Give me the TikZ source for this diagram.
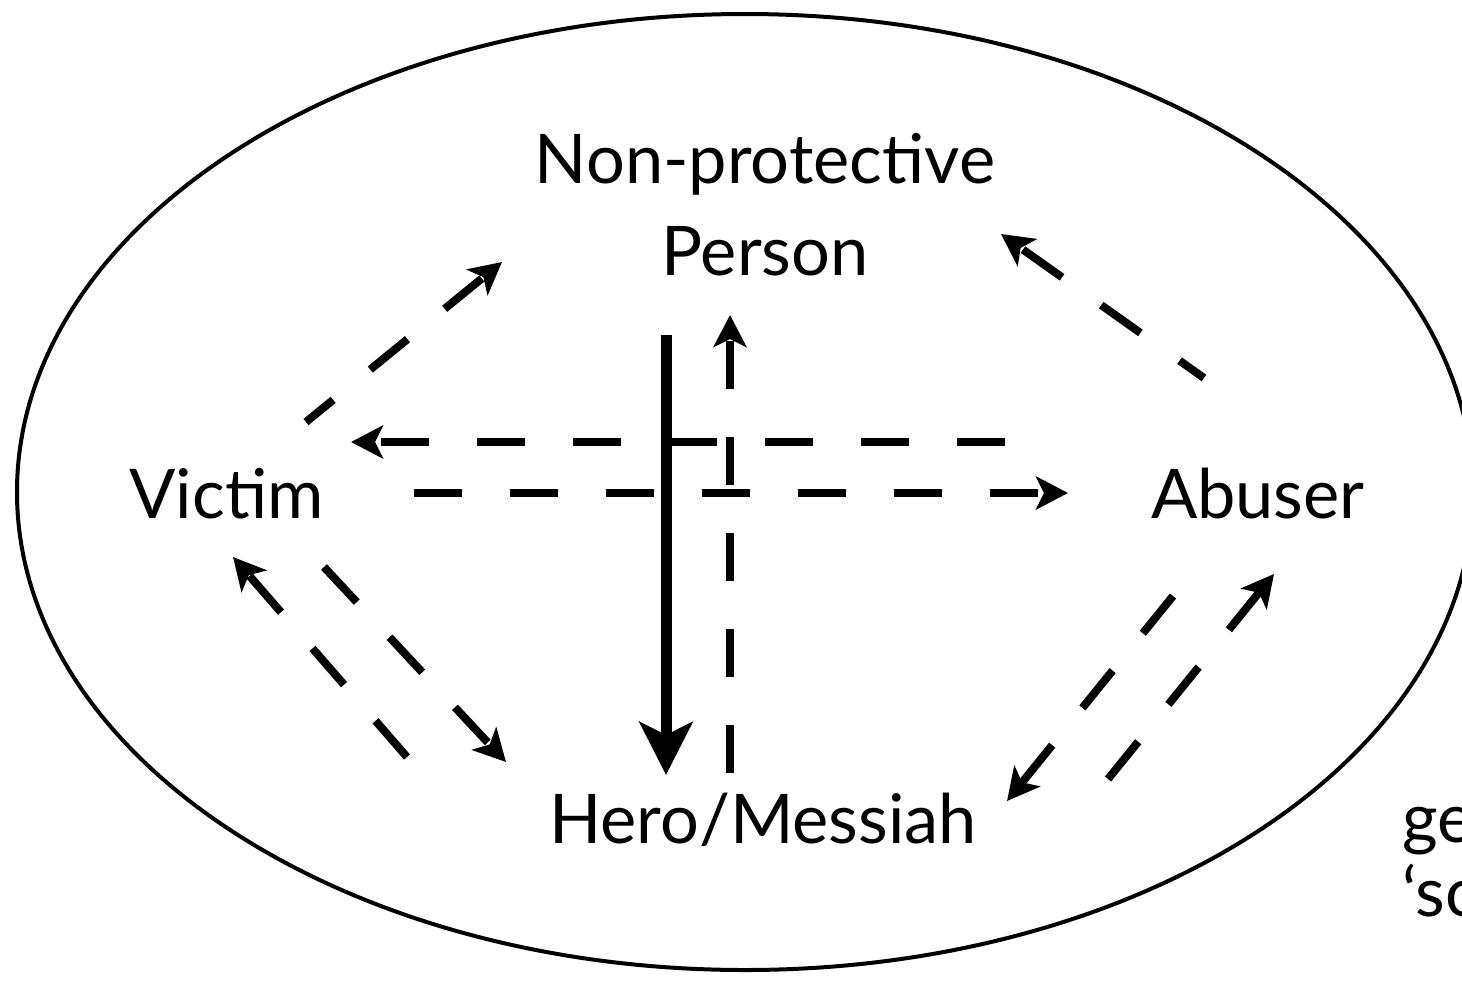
\documentclass[tikz,border=0pt]{standalone}
\usepackage{fontspec}
\setmainfont{Lato}
\usepackage{tikz}
\usetikzlibrary{arrows.meta, positioning}
\tikzset{
  role/.style={font=\fontsize{39}{52}\selectfont, inner sep=0pt, anchor=base},
  aside/.style={font=\fontsize{39}{42}\selectfont, inner sep=0pt, anchor=base west, align=left},
  link/.style={line width=0.16cm, dash pattern=on 0.96cm off 0.96cm,
    -{Stealth[length=0.64cm, width=0.66cm, inset=0.16cm]}},
  main/.style={line width=0.22cm,
    -{Stealth[length=1.06cm, width=1.06cm, inset=0.26cm]}}
}

\begin{document}
\begin{tikzpicture}[x=0.02cm, y=-0.02cm]
  \useasboundingbox (0,0) rectangle (1462,984);
  \clip (0,0) rectangle (1462,984);

  % Frame
  \draw[line width=0.08cm] (745,492) ellipse [x radius=728, y radius=478];

  % Roles
  \node[role, align=center] (np) at (765,275) {Non-protective\\Person};
  \node[role, anchor=base east] (victim) at (324,518) {Victim};
  \node[role, anchor=base east] (abuser) at (1365,518) {Abuser};
  \node[role] (hero) at (763,843) {Hero/Messiah};
  \node[aside] (note) at (1402,916) {ge\\‘so};

  % Connector ends
  \coordinate (vn-s) at (306,422);  \coordinate (vn-e) at (502,262);
  \coordinate (an-s) at (1204,378); \coordinate (an-e) at (1001,234);
  \coordinate (av-s) at (1005,442); \coordinate (av-e) at (351,442);
  \coordinate (va-s) at (414,493);  \coordinate (va-e) at (1068,493);
  \coordinate (nh-s) at (666,335);  \coordinate (nh-e) at (666,775);
  \coordinate (hn-s) at (730,773);  \coordinate (hn-e) at (730,315);
  \coordinate (hv-s) at (407,757);  \coordinate (hv-e) at (233,557);
  \coordinate (vh-s) at (324,567);  \coordinate (vh-e) at (506,762);
  \coordinate (ah-s) at (1173,596); \coordinate (ah-e) at (1007,801);
  \coordinate (ha-s) at (1108,779); \coordinate (ha-e) at (1274,574);

  % Connectors
  \draw[link, dash phase=0.26cm] (vn-s) -- (vn-e);
  \draw[link, dash phase=0.36cm] (an-s) -- (an-e);
  \draw[link] (av-s) -- (av-e);
  \draw[link] (va-s) -- (va-e);
  \draw[main] (nh-s) -- (nh-e);
  \draw[link] (hn-s) -- (hn-e);
  \draw[link] (hv-s) -- (hv-e);
  \draw[link] (vh-s) -- (vh-e);
  \draw[link] (ah-s) -- (ah-e);
  \draw[link] (ha-s) -- (ha-e);
\end{tikzpicture}
\end{document}
